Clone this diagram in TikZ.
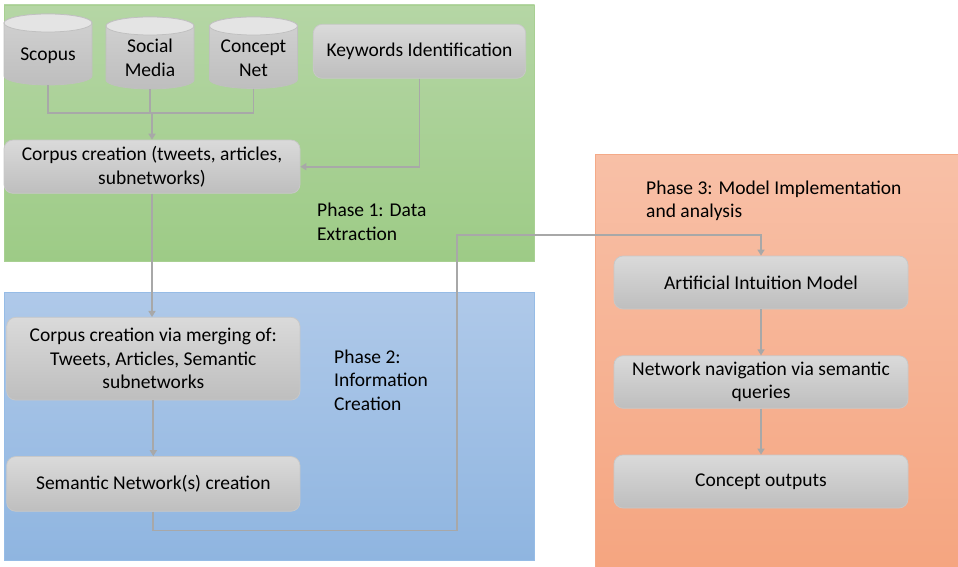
\documentclass[tikz,border=0pt]{standalone}
\usepackage{fontspec}
\setmainfont{Carlito}
\usetikzlibrary{arrows.meta}
\definecolor{gtop}{RGB}{181,214,165}
\definecolor{gbot}{RGB}{157,203,134}
\definecolor{gline}{RGB}{168,208,146}
\definecolor{btop}{RGB}{175,201,233}
\definecolor{bbot}{RGB}{143,181,224}
\definecolor{bline}{RGB}{150,188,230}
\definecolor{otop}{RGB}{248,192,167}
\definecolor{obot}{RGB}{245,165,128}
\definecolor{oline}{RGB}{244,170,136}
\definecolor{boxtop}{RGB}{218,218,218}
\definecolor{boxbot}{RGB}{190,190,190}
\definecolor{boxline}{RGB}{200,200,200}
\definecolor{cyltop}{RGB}{210,210,210}
\definecolor{cylbot}{RGB}{190,190,190}
\definecolor{cylcap}{RGB}{228,228,228}
\definecolor{cylline}{RGB}{192,192,192}
\definecolor{connc}{RGB}{168,168,168}
\newcommand\dbcyl[3]{%
  \path[draw=cylline, line width=0.75pt, top color=cyltop, bottom color=cylbot]
    (#1-44,#2+9) -- (#1-44,#3-9) arc[start angle=180, end angle=0, x radius=44, y radius=9]
    -- (#1+44,#2+9) arc[start angle=0, end angle=-180, x radius=44, y radius=9] -- cycle;
  \path[draw=cylline, line width=0.75pt, fill=cylcap] (#1,#2+9) ellipse[x radius=44, y radius=9];
}
\begin{document}
\begin{tikzpicture}[x=1pt, y=-1pt,
  txt/.style={font=\fontsize{19.5}{23.5}\selectfont, text=black},
  box/.style={txt, draw=boxline, line width=0.75pt, rounded corners=9pt,
    top color=boxtop, bottom color=boxbot, align=center, inner sep=2pt},
  shapebox/.style={inner sep=0pt, minimum width=88pt},
  phase/.style={txt, align=left, anchor=west, inner sep=0pt},
  conn/.style={draw=connc, line width=1.8pt},
  arr/.style={conn, -{Triangle[length=6pt, width=7pt]}}]
\useasboundingbox (0,0) rectangle (958,567);
% panels
\path[draw=gline, line width=0.8pt, top color=gtop, bottom color=gbot] (4,5) rectangle (534.5,261.5);
\path[draw=bline, line width=0.8pt, top color=btop, bottom color=bbot] (4,292.5) rectangle (534.5,560);
\path[draw=oline, line width=0.8pt, top color=otop, bottom color=obot] (595.5,154) rectangle (958,567);
% cylinders
\dbcyl{48}{14}{85}
\dbcyl{150}{17}{89}
\dbcyl{253.5}{17}{88.5}
\node[shapebox, minimum height=71pt] (scopus) at (48,49.5) {};
\node[shapebox, minimum height=72pt] (social) at (150,53) {};
\node[shapebox, minimum height=71.5pt] (concept) at (253.5,52.75) {};
\node[txt, align=center, inner sep=0pt] (scopustxt) at (48,55.5) {Scopus};
\node[txt, align=center, inner sep=0pt] (socialtxt) at (150,58) {Social\\Media};
\node[txt, align=center, inner sep=0pt] (concepttxt) at (253.5,58) {Concept\\Net};
% boxes
\node[box, minimum width=212.4pt, minimum height=54pt] (kw) at (419.5,51.3) {Keywords Identification};
\node[box, minimum width=296pt, minimum height=53.3pt] (corpus) at (152,166.7) {Corpus creation (tweets, articles,\\subnetworks)};
\node[box, minimum width=293.3pt, minimum height=82.7pt] (merge) at (153.3,358.7) {Corpus creation via merging of:\\Tweets, Articles, Semantic\\subnetworks};
\node[box, minimum width=293.3pt, minimum height=54.7pt] (sem) at (153.3,483.9) {Semantic Network(s) creation};
\node[box, minimum width=294pt, minimum height=53pt] (aim) at (761,282.5) {Artificial Intuition Model};
\node[box, minimum width=294pt, minimum height=52.5pt] (nav) at (761,382) {Network navigation via semantic\\queries};
\node[box, minimum width=294pt, minimum height=53pt] (out) at (761,481.5) {Concept outputs};
% phase labels
\node[phase] (p1) at (317,222) {Phase 1: Data\\Extraction};
\node[phase] (p2) at (334,380.2) {Phase 2:\\Information\\Creation};
\node[phase] (p3) at (646,201) {Phase 3: Model Implementation\\and analysis};
% connectors
\coordinate (j) at (152,113.3);
\draw[conn] (scopus.south) |- (j);
\draw[conn] (concept.south) |- (j);
\draw[conn] (social.south) -- (social.south |- j);
\draw[arr] (j) -- (j |- corpus.north);
\draw[arr] (kw.south) |- (corpus.east);
\draw[arr] (corpus.south) -- (corpus.south |- merge.north);
\draw[arr] (merge.south) -- (sem.north);
\coordinate (b1) at (457.2,530.4);
\coordinate (b2) at (457.2,235.3);
\draw[arr] (sem.south) |- (b1) -- (b2) -| (aim.north);
\draw[arr] (aim.south) -- (nav.north);
\draw[arr] (nav.south) -- (out.north);
\end{tikzpicture}
\end{document}
